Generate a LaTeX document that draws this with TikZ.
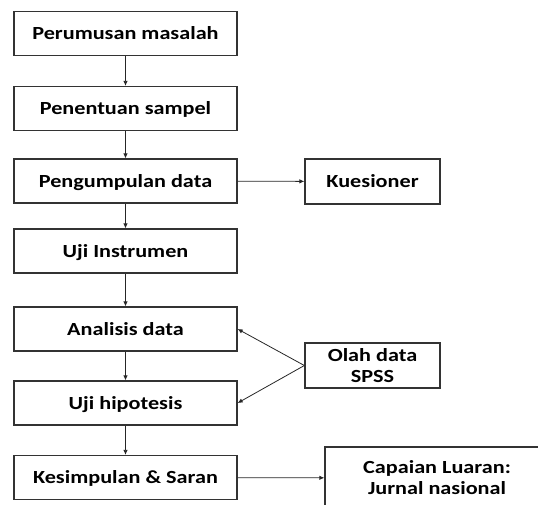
\documentclass[tikz,border=0pt]{standalone}
\usepackage{fontspec}
\setmainfont{Carlito}[FakeStretch=1.2]
\usetikzlibrary{arrows.meta}

\begin{document}
\begin{tikzpicture}[x=1pt, y=-1pt]

	% bingkai gambar
	\useasboundingbox (0,0) rectangle (538,504);
	\clip (0,0) rectangle (538,504);

	\tikzset{kotak/.style={
				draw=black!80,
				line width=1.3pt,
				fill=white,
				font=\fontsize{18.5}{21}\selectfont\bfseries,
				align=center
			}}
	\tikzset{satubaris/.style={text height=12pt, text depth=0pt}}
	\tikzset{langkah/.style={kotak, satubaris, minimum width=223pt, minimum height=44pt}}
	\tikzset{samping/.style={kotak, minimum width=135pt, minimum height=45pt}}
	\tikzset{panah/.style={draw=black!85, line width=0.8pt, -{Latex[length=5pt, width=4.5pt]}}}

	% alur utama
	\node[langkah] (rumus)    at (125.5, 33.5)  {Perumusan masalah};
	\node[langkah] (sampel)   at (125.5, 108.5) {Penentuan sampel};
	\node[langkah] (kumpul)   at (125.5, 181)   {Pengumpulan data};
	\node[langkah] (uji)      at (125.5, 251)   {Uji Instrumen};
	\node[langkah] (analisis) at (125.5, 329)   {Analisis data};
	\node[langkah] (hipotesis) at (125.5, 403)  {Uji hipotesis};
	\node[langkah] (simpul)   at (125.5, 477.5) {Kesimpulan \& Saran};

	% kotak samping
	\node[samping, satubaris] (kuesioner) at (372.5, 181.5) {Kuesioner};
	\node[samping] (olah)      at (372.5, 365.5) {Olah data\\SPSS};
	\node[samping, minimum width=224pt, minimum height=62pt] (luaran) at (437, 478) {Capaian Luaran:\\Jurnal nasional};

	\foreach \a/\b in {rumus/sampel, sampel/kumpul, kumpul/uji, uji/analisis,
			analisis/hipotesis, hipotesis/simpul}{
			\draw[panah] (\a) -- (\b);
		}

	\draw[panah] (kumpul) -- (kuesioner);
	\draw[panah] (olah.west) -- (analisis.east);
	\draw[panah] (olah.west) -- (hipotesis.east);
	\draw[panah] (simpul) -- (luaran);

\end{tikzpicture}
\end{document}
